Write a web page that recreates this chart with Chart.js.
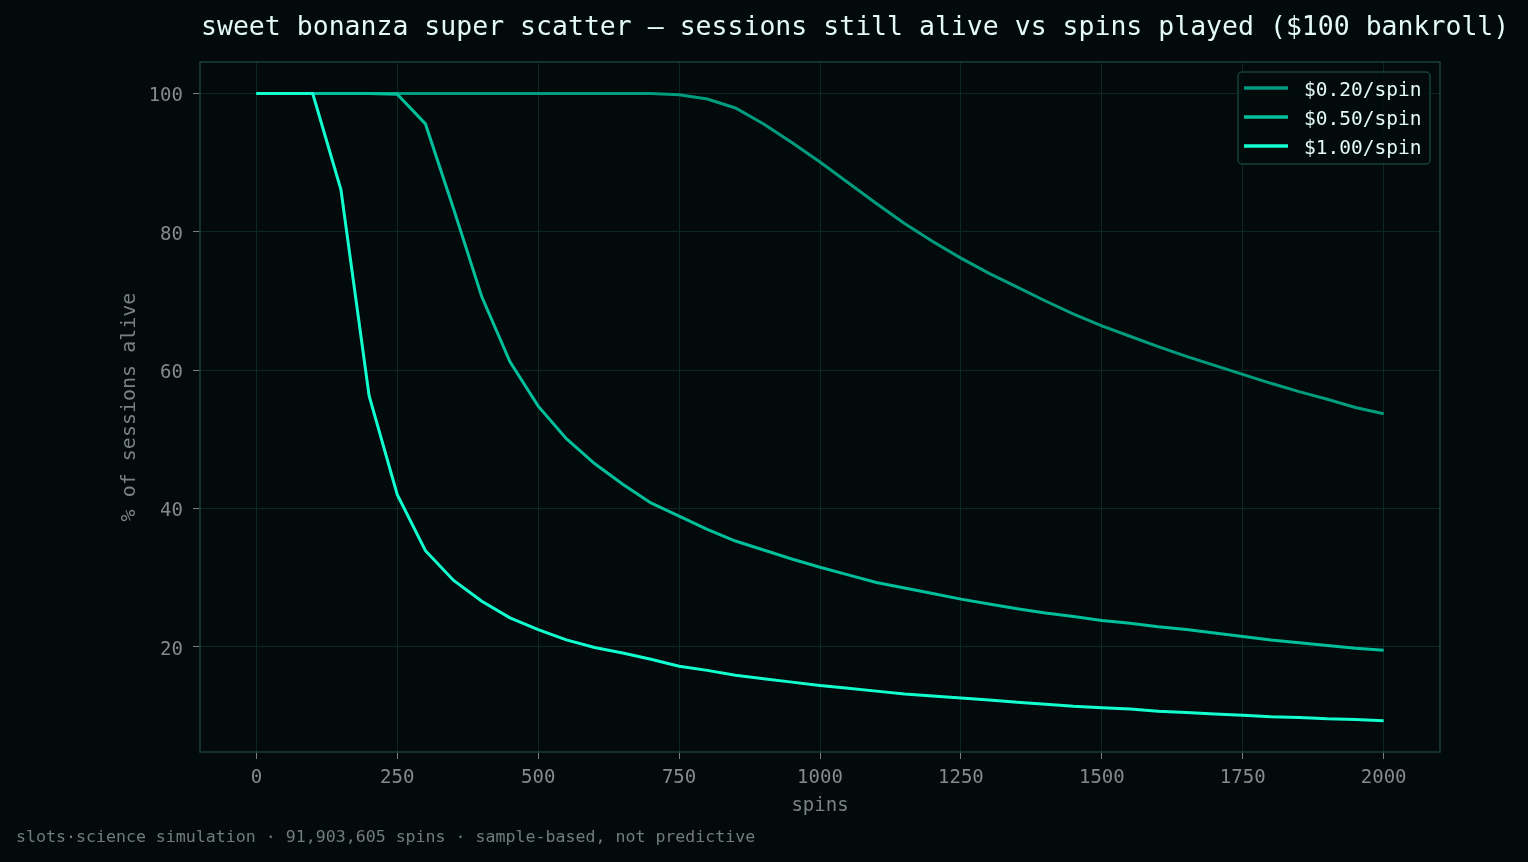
<!DOCTYPE html>
<html>
<head>
<meta charset="utf-8">
<title>sessions still alive vs spins played</title>
<script src="https://cdn.jsdelivr.net/npm/chart.js@4.4.1/dist/chart.umd.min.js"></script>
<style>
  html, body { margin: 0; padding: 0; background: #020a0c; }
  #wrap { width: 1528px; height: 862px; position: relative; }
</style>
</head>
<body>
<div id="wrap"><canvas id="survivalLine"></canvas></div>
<script>
// SESSIONS STILL ALIVE - LINE

const spins = [
    0, 50, 100, 150, 200, 250, 300, 350, 400, 450,
    500, 550, 600, 650, 700, 750, 800, 850, 900, 950,
    1000, 1050, 1100, 1150, 1200, 1250, 1300, 1350, 1400, 1450,
    1500, 1550, 1600, 1650, 1700, 1750, 1800, 1850, 1900, 1950,
    2000
];

const alive020 = [
    100, 100, 100, 100, 100, 100, 100, 100, 100, 100,
    100, 100, 100, 100, 100, 99.8, 99.2, 97.9, 95.6, 92.9,
    90.1, 87.1, 84.1, 81.2, 78.6, 76.2, 74.0, 72.0, 70.0, 68.1,
    66.4, 64.9, 63.4, 62.0, 60.7, 59.4, 58.1, 56.9, 55.8, 54.6,
    53.7
];

const alive050 = [
    100, 100, 100, 100, 100, 99.9, 95.6, 83.3, 70.6, 61.2,
    54.8, 50.1, 46.5, 43.5, 40.8, 38.9, 37.0, 35.3, 34.0, 32.7,
    31.5, 30.4, 29.3, 28.5, 27.7, 26.9, 26.2, 25.5, 24.9, 24.4,
    23.8, 23.4, 22.9, 22.5, 22.0, 21.5, 21.0, 20.6, 20.2, 19.8,
    19.5
];

const alive100 = [
    100, 100, 100, 86.1, 56.3, 42.0, 33.9, 29.6, 26.6, 24.2,
    22.5, 21.0, 19.9, 19.1, 18.2, 17.2, 16.6, 15.9, 15.4, 14.9,
    14.4, 14.0, 13.6, 13.2, 12.9, 12.6, 12.3, 12.0, 11.7, 11.4,
    11.2, 11.0, 10.7, 10.5, 10.3, 10.1, 9.9, 9.8, 9.6, 9.5,
    9.3
];

const betLabels = ["$0.20/spin", "$0.50/spin", "$1.00/spin"];
const xTicks = [0, 250, 500, 750, 1000, 1250, 1500, 1750, 2000];
const yTicks = [20, 40, 60, 80, 100];

const titleText = "sweet bonanza super scatter \u2014 sessions still alive vs spins played ($100 bankroll)";
const footerText = "slots\u00b7science simulation \u00b7 91,903,605 spins \u00b7 sample-based, not predictive";

const bg = "#020a0c";
const gridColor = "#0c2622";
const spineColor = "#17403a";
const tickColor = "#858b8a";
const mono = "'DejaVu Sans Mono', monospace";

Chart.defaults.font.family = mono;

const toPoints = (vals) => spins.map((s, i) => ({ x: s, y: vals[i] }));

const survivalData = {
    datasets: [
        {
            label: betLabels[0],
            data: toPoints(alive020),
            borderColor: "#009c7d",
            backgroundColor: "#009c7d",
            borderWidth: 3,
            pointRadius: 0,
            tension: 0,
            order: 3
        },
        {
            label: betLabels[1],
            data: toPoints(alive050),
            borderColor: "#00bf9b",
            backgroundColor: "#00bf9b",
            borderWidth: 3,
            pointRadius: 0,
            tension: 0,
            order: 2
        },
        {
            label: betLabels[2],
            data: toPoints(alive100),
            borderColor: "#12ffd0",
            backgroundColor: "#12ffd0",
            borderWidth: 3,
            pointRadius: 0,
            tension: 0,
            order: 1
        }
    ]
};

// background, frame, title, footer and legend box
const decorations = {
    id: "decorations",
    beforeDraw(chart) {
        const ctx = chart.ctx;
        ctx.save();
        ctx.fillStyle = bg;
        ctx.fillRect(0, 0, chart.width, chart.height);
        ctx.restore();
    },
    beforeDatasetsDraw(chart) {
        const { ctx, chartArea: a } = chart;
        ctx.save();
        ctx.strokeStyle = spineColor;
        ctx.lineWidth = 1.5;
        ctx.strokeRect(a.left, a.top, a.right - a.left, a.bottom - a.top);
        ctx.restore();
    },
    afterDraw(chart) {
        const { ctx, chartArea: a } = chart;
        ctx.save();

        ctx.fillStyle = "#e4fbf5";
        ctx.font = "26.5px " + mono;
        ctx.textBaseline = "alphabetic";
        ctx.textAlign = "left";
        ctx.fillText(titleText, 201, 35);

        ctx.fillStyle = "#737c7a";
        ctx.font = "16.6px " + mono;
        ctx.fillText(footerText, 16, 842);

        // legend, upper right inside the plot
        const lw = 192, lh = 92;
        const lx = a.right - 10 - lw;
        const ly = a.top + 10;
        ctx.beginPath();
        if (ctx.roundRect) ctx.roundRect(lx, ly, lw, lh, 4);
        else ctx.rect(lx, ly, lw, lh);
        ctx.fillStyle = "rgba(2,10,12,0.85)";
        ctx.fill();
        ctx.strokeStyle = spineColor;
        ctx.lineWidth = 1.5;
        ctx.stroke();

        ctx.font = "19.5px " + mono;
        chart.data.datasets.forEach((ds, i) => {
            const y = ly + 16 + i * 29;
            ctx.beginPath();
            ctx.moveTo(lx + 6, y);
            ctx.lineTo(lx + 50, y);
            ctx.strokeStyle = ds.borderColor;
            ctx.lineWidth = 3.5;
            ctx.stroke();
            ctx.fillStyle = "#e4fbf5";
            ctx.fillText(ds.label, lx + 66, y + 8);
        });
        ctx.restore();
    }
};

const survivalDiv = document.getElementById("survivalLine");

const survivalChart = new Chart(survivalDiv, {
    type: "line",
    data: survivalData,
    plugins: [decorations],
    options: {
        responsive: true,
        maintainAspectRatio: false,
        animation: false,
        devicePixelRatio: 1,
        layout: { padding: { left: 0, top: 62, right: 88, bottom: 0 } },
        plugins: {
            legend: { display: false },
            tooltip: { enabled: false }
        },
        scales: {
            x: {
                type: "linear",
                min: -100,
                max: 2100,
                afterBuildTicks: (scale) => { scale.ticks = xTicks.map(v => ({ value: v })); },
                afterFit: (scale) => { scale.height = 110; },
                grid: { color: gridColor, lineWidth: 1, tickColor: "#7b7f7e", tickLength: 7 },
                border: { display: false },
                ticks: {
                    color: tickColor,
                    font: { size: 19 },
                    padding: 8,
                    maxRotation: 0,
                    autoSkip: false,
                    callback: (v) => String(v)
                },
                title: {
                    display: true,
                    text: "spins",
                    color: "#7a8280",
                    font: { size: 19 },
                    padding: { top: 0, bottom: 45 }
                }
            },
            y: {
                min: 4.8,
                max: 104.55,
                afterBuildTicks: (scale) => { scale.ticks = yTicks.map(v => ({ value: v })); },
                afterFit: (scale) => { scale.width = 200; },
                grid: { color: gridColor, lineWidth: 1, tickColor: "#7b7f7e", tickLength: 7 },
                border: { display: false },
                ticks: {
                    color: tickColor,
                    font: { size: 19 },
                    padding: 10,
                    labelOffset: 3,
                    callback: (v) => String(v)
                },
                title: {
                    display: true,
                    text: "% of sessions alive",
                    color: "#7a8280",
                    font: { size: 20 },
                    padding: { top: 118, bottom: 0 }
                }
            }
        }
    }
});
</script>
</body>
</html>
